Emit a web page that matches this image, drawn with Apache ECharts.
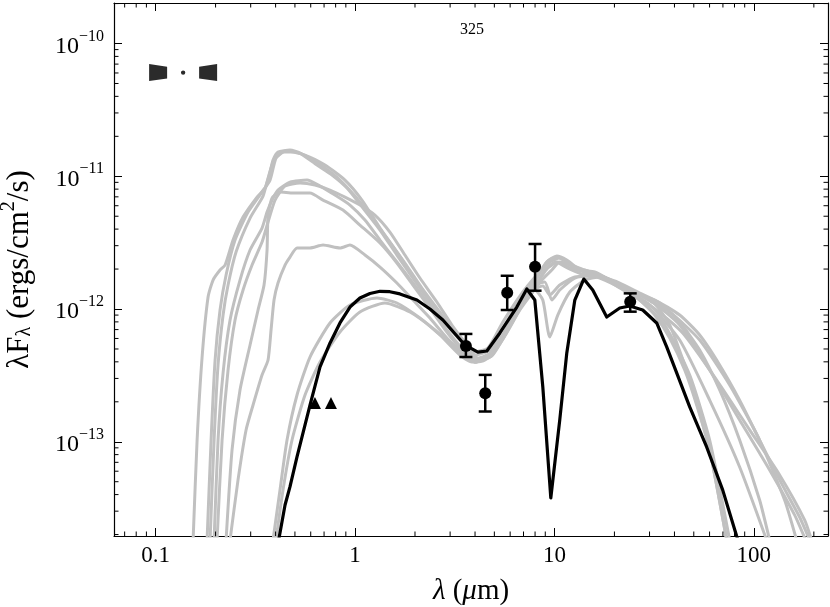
<!DOCTYPE html>
<html>
<head>
<meta charset="utf-8">
<title>SED 325</title>
<script src="https://cdn.jsdelivr.net/npm/echarts@6/dist/echarts.min.js"></script>
<style>
    html, body { margin: 0; padding: 0; background: #fff; }
    #chart { width: 830px; height: 607px; }
</style>
</head>
<body>
<div id="chart"></div>
<script>
// fluxes below are in units of 1e-12 ergs/cm^2/s, wavelengths in micron
var FLUX_UNIT = 1e-12;

var xRange = [0.0619, 235.5];
var yRange = [0.0195, 202];
var xTickValues = [0.1, 1, 10, 100];
var xTickLabels = ['0.1', '1', '10', '100'];
var yTickExps = [-13, -12, -11, -10];

// best fit model (black)
var fitSed = [[0.414,0.018],[0.446,0.0334],[0.472,0.0457],[0.512,0.0768],[0.595,0.189],[0.668,0.366],
    [0.750,0.555],[0.841,0.785],[0.944,1.035],[1.059,1.210],[1.189,1.310],[1.335,1.360],[1.497,1.350],
    [1.681,1.300],[2.045,1.169],[2.376,1.0],[2.760,0.826],[3.557,0.536],[4.133,0.474],[4.585,0.483],
    [5.327,0.660],[6.481,1.035],[7.273,1.415],[7.977,1.169],[8.748,0.259],[9.594,0.0377],[10.64,0.146],
    [11.54,0.467],[12.66,1.169],[14.04,1.682],[15.57,1.390],[18.30,0.871],[21.27,1.017],[23.87,1.053],
    [27.73,0.983],[32.59,0.785],[36.57,0.518],[41.04,0.330],[47.70,0.183],[58.00,0.0914],[69.79,0.0434],
    [82.00,0.0195],[84.9,0.0167]];

// other good fits (grey)
var model1 = [[0.1543,0.0182],[0.1616,0.1031],[0.1712,0.435],[0.1834,1.231],[0.1943,1.653],[0.2106,1.967],
    [0.2232,2.145],[0.2447,3.308],[0.2747,4.931],[0.3228,6.97],[0.3541,8.15],[0.3751,10.75],[0.3883,13.24],
    [0.4112,15.21],[0.4724,15.75],[0.5303,14.95],[0.6451,12.14],[0.767,10.21],[0.9117,8.15],[1.097,5.76],
    [1.335,3.935],[1.623,2.551],[1.953,1.712],[2.376,1.129],[2.890,0.758],[3.436,0.564],[3.993,0.450],
    [4.747,0.491],[5.642,0.758],[6.710,1.169],[7.977,1.653],[9.160,2.259],[10.28,2.464],[11.54,2.259],
    [13.41,1.967],[15.94,1.899],[18.95,1.653],[23.87,1.343],[31.84,1.169],[42.49,0.901],[53.52,0.637],
    [67.41,0.379],[84.90,0.206],[106.9,0.103],[134.7,0.0516],[169.6,0.0271],[190.4,0.0182]];

var model2 = [[0.1813,0.0182],[0.1899,0.1031],[0.1989,0.413],[0.2106,0.983],[0.2258,1.803],[0.2504,3.308],
    [0.2910,5.376],[0.3420,7.604],[0.3751,9.363],[0.4018,13.71],[0.4358,15.21],[0.5005,15.21],[0.595,13.71],
    [0.7075,11.53],[0.8409,9.363],[1.0,7.095],[1.189,5.105],[1.446,3.424],[1.780,2.221],[2.166,1.439],
    [2.666,0.949],[3.170,0.671],[3.683,0.491],[4.133,0.413],[4.858,0.443],[5.776,0.671],[6.867,1.053],
    [7.977,1.390],[8.748,1.169],[9.484,0.615],[10.40,0.901],[11.95,1.343],[14.20,1.653],[16.88,1.742],
    [21.27,1.439],[26.79,1.169],[31.84,0.901],[37.86,0.605],[45.02,0.347],[51.70,0.189],[60.05,0.0868],
    [73.08,0.0182]];

var model3 = [[0.1877,0.0182],[0.1966,0.1031],[0.2058,0.379],[0.2181,0.901],[0.2310,1.516],[0.2533,2.687],
    [0.2978,4.844],[0.3460,7.095],[0.3666,9.69],[0.3928,13.24],[0.4512,15.48],[0.5617,14.44],[0.7075,12.14],
    [0.8910,9.363],[1.084,6.62],[1.335,4.074],[1.623,2.687],[1.953,1.772],[2.376,1.169],[2.890,0.785],
    [3.436,0.584],[3.902,0.474],[4.638,0.508],[5.514,0.798],[6.710,1.253],[8.162,1.803],[9.484,2.259],
    [10.64,2.421],[12.23,2.145],[14.20,1.967],[16.88,1.772],[21.27,1.516],[30.06,1.072],[43.99,0.660],
    [65.11,0.292],[95.28,0.123],[134.7,0.0562],[179.7,0.0258],[194.8,0.0182]];

var model4 = [[0.1966,0.0182],[0.2058,0.1031],[0.2181,0.330],[0.2364,0.826],[0.2652,1.653],[0.2978,2.782],
    [0.3420,4.074],[0.3624,5.376],[0.3839,6.62],[0.4112,7.875],[0.4724,9.043],[0.5748,9.363],[0.668,8.438],
    [0.794,7.219],[0.9439,6.07],[1.122,4.68],[1.335,3.308],[1.623,2.259],[1.953,1.570],[2.376,1.053],
    [2.890,0.695],[3.436,0.508],[4.086,0.413],[4.747,0.443],[5.642,0.660],[6.710,1.017],[7.977,1.439],
    [8.952,1.967],[10.16,2.259],[11.67,2.036],[13.72,1.834],[16.88,1.712],[22.53,1.390],[30.06,1.072],
    [42.49,0.584],[60.05,0.206],[84.90,0.0646],[115.9,0.0182]];

var model5 = [[0.2035,0.0182],[0.2156,0.1031],[0.2310,0.347],[0.2504,0.826],[0.2747,1.390],[0.3048,2.145],
    [0.3420,3.195],[0.3666,4.520],[0.3974,6.62],[0.4460,8.438],[0.5303,8.889],[0.6303,8.585],[0.7495,7.875],
    [0.8910,6.97],[1.059,6.07],[1.259,5.105],[1.497,3.801],[1.780,2.551],[2.117,1.712],[2.575,1.129],
    [3.062,0.758],[3.557,0.564],[4.133,0.428],[4.858,0.474],[5.843,0.745],[6.867,1.110],[7.977,1.516],
    [8.952,1.597],[9.705,1.169],[10.64,1.390],[12.66,1.712],[15.39,1.772],[18.95,1.653],[26.79,1.169],
    [35.74,0.758],[47.70,0.318],[60.05,0.103],[75.67,0.0182]];

var model6 = [[0.2258,0.0182],[0.2419,0.0868],[0.2652,0.2455],[0.2978,0.536],[0.3266,0.983],[0.3500,1.516],
    [0.3624,2.782],[0.3666,5.105],[0.3839,6.85],[0.4208,7.604],[0.4891,7.474],[0.595,7.474],[0.6914,6.62],
    [0.8707,5.566],[1.059,4.290],[1.335,3.141],[1.623,2.221],[1.953,1.516],[2.376,1.017],[2.890,0.671],
    [3.436,0.491],[3.993,0.399],[4.747,0.435],[5.642,0.626],[6.710,0.983],[7.795,1.343],[8.649,1.653],
    [9.705,1.967],[10.64,2.259],[11.95,2.145],[14.20,1.899],[16.88,1.772],[21.27,1.543],[26.79,1.275],
    [37.86,0.949],[53.52,0.584],[75.67,0.268],[106.9,0.103],[142.7,0.0364],[163.8,0.0182]];

var model7 = [[0.2364,0.0182],[0.2592,0.0516],[0.2844,0.1227],[0.3083,0.1892],[0.3420,0.3184],[0.3666,0.413],
    [0.3795,0.695],[0.3928,1.169],[0.4112,1.570],[0.4460,2.145],[0.4724,2.464],[0.5122,2.879],[0.5950,2.879],
    [0.6914,3.033],[0.8409,2.879],[0.9439,3.033],[1.122,2.551],[1.335,2.072],[1.623,1.570],[1.953,1.169],
    [2.376,0.8555],[2.890,0.605],[3.436,0.474],[3.993,0.399],[4.747,0.443],[5.642,0.660],[6.710,1.017],
    [7.795,1.390],[8.748,1.490],[9.484,1.275],[10.64,1.516],[12.66,1.742],[15.94,1.803],[21.27,1.543],
    [30.06,1.169],[42.49,0.758],[60.05,0.347],[84.90,0.146],[120.0,0.0613],[160.1,0.0281],[181.8,0.0182]];

var model8 = [[0.3883,0.0182],[0.4208,0.0434],[0.4564,0.1031],[0.5122,0.2251],[0.595,0.435],[0.7495,0.785],
    [0.9439,1.072],[1.289,1.210],[1.623,1.110],[2.117,0.8555],[2.666,0.637],[3.357,0.450],[3.857,0.399],
    [4.480,0.413],[5.327,0.584],[6.333,0.901],[7.357,1.275],[8.257,1.597],[9.267,2.036],[10.40,2.259],
    [11.95,2.036],[14.20,1.899],[16.88,1.772],[21.27,1.570],[26.79,1.320],[33.74,1.110],[42.49,0.798],
    [53.52,0.491],[67.41,0.2455],[84.90,0.1031],[106.9,0.0364],[120.0,0.0182]];

var model9 = [[0.4018,0.0182],[0.4358,0.0434],[0.4835,0.1031],[0.5617,0.2251],[0.668,0.399],[0.8409,0.671],
    [1.059,0.949],[1.413,1.110],[1.886,0.949],[2.516,0.695],[3.357,0.474],[3.993,0.399],[4.747,0.450],
    [5.642,0.660],[6.710,1.072],[7.977,1.597],[9.160,2.259],[10.28,2.507],[11.54,2.339],[13.10,2.036],
    [15.39,1.899],[18.30,1.712],[23.87,1.390],[31.84,1.091],[37.86,0.758],[47.70,0.292],[60.05,0.0868],
    [73.08,0.0182]];

var greyModels = [model1, model2, model3, model4, model5, model6, model7, model8, model9];

// photometry with error bars
var photLam = [3.6, 4.5, 5.8, 8.0, 24.0];
var photFlux = [0.526, 0.232, 1.327, 2.08, 1.135];
var photLo = [0.435, 0.169, 0.983, 1.374, 0.955];
var photHi = [0.649, 0.319, 1.78, 3.09, 1.312];

// upper limits (triangles)
var limLam = [0.63, 0.758];
var limFlux = [0.196, 0.196];

// viewing angle icon position
var iconLam = 0.1375;
var iconFlux = 60.4;

function scaled(arr) {
    return arr.map(function (p) { return [p[0], p[1] * FLUX_UNIT]; });
}

var chart = echarts.init(document.getElementById('chart'));

var FONT = 'Liberation Serif';
var axisColor = '#000';

function xLabel(v) {
    var e = Math.log10(v);
    for (var i = 0; i < xTickValues.length; i++) {
        if (Math.abs(Math.log10(xTickValues[i]) - e) < 1e-6) return xTickLabels[i];
    }
    return '';
}
function yLabel(v) {
    var e = Math.round(Math.log10(v));
    if (Math.abs(Math.log10(v) - e) > 1e-6 || yTickExps.indexOf(e) < 0) return '';
    return '{b|10}{sup|\u2212' + Math.abs(e) + '}';
}

// minor ticks at 2..9 x 10^k
var xMinor = [], yMinor = [];
for (var k = -3; k <= 3; k++) {
    for (var m = 2; m <= 9; m++) {
        var v = m * Math.pow(10, k);
        if (v > xRange[0] && v < xRange[1]) xMinor.push([v, 1e-12]);
    }
}
for (var k2 = -15; k2 <= -9; k2++) {
    for (var m2 = 2; m2 <= 9; m2++) {
        var w = m2 * Math.pow(10, k2);
        if (w > yRange[0] * FLUX_UNIT && w < yRange[1] * FLUX_UNIT) yMinor.push([1, w]);
    }
}

var series = [];
greyModels.forEach(function (md, i) {
    series.push({
        name: 'model' + (i + 1),
        type: 'line',
        data: scaled(md),
        symbol: 'none',
        smooth: 0.2,
        clip: true,
        lineStyle: { color: '#c0c0c0', width: 3, opacity: 1 },
        z: 2
    });
});
series.push({
    name: 'best fit',
    type: 'line',
    data: scaled(fitSed),
    symbol: 'none',
    clip: true,
    lineStyle: { color: '#000', width: 3.2, opacity: 1, join: 'round' },
    z: 3
});
series.push({
    name: 'errors',
    type: 'custom',
    data: photLam.map(function (l, i) { return [l, photLo[i] * FLUX_UNIT, photHi[i] * FLUX_UNIT]; }),
    encode: { x: 0, y: [1, 2] },
    renderItem: function (params, api) {
        var lo = api.coord([api.value(0), api.value(1)]);
        var hi = api.coord([api.value(0), api.value(2)]);
        var hw = 6.5;
        var st = { stroke: '#000', lineWidth: 2.5 };
        return {
            type: 'group',
            children: [
                { type: 'line', shape: { x1: lo[0], y1: lo[1], x2: hi[0], y2: hi[1] }, style: st },
                { type: 'line', shape: { x1: lo[0] - hw, y1: lo[1], x2: lo[0] + hw, y2: lo[1] }, style: st },
                { type: 'line', shape: { x1: hi[0] - hw, y1: hi[1], x2: hi[0] + hw, y2: hi[1] }, style: st }
            ]
        };
    },
    z: 4
});
series.push({
    name: 'fluxes',
    type: 'scatter',
    data: photLam.map(function (l, i) { return [l, photFlux[i] * FLUX_UNIT]; }),
    symbol: 'circle',
    symbolSize: 12,
    itemStyle: { color: '#000', opacity: 1 },
    z: 5
});
series.push({
    name: 'limits',
    type: 'scatter',
    data: limLam.map(function (l, i) { return [l, limFlux[i] * FLUX_UNIT]; }),
    symbol: 'triangle',
    symbolSize: 12,
    itemStyle: { color: '#000', opacity: 1 },
    z: 5
});
series.push({
    name: 'icon',
    type: 'scatter',
    data: [[iconLam, iconFlux * FLUX_UNIT]],
    symbol: 'path://M0,0 L18,2.7 L18,14.3 L0,17 Z M50,2.7 L68,0 L68,17 L50,14.3 Z ' +
        'M31.8,8.5 L32.4,6.9 L34,6.3 L35.6,6.9 L36.2,8.5 L35.6,10.1 L34,10.7 L32.4,10.1 Z',
    symbolSize: [68, 17],
    itemStyle: { color: '#2b2b2b', opacity: 1 },
    z: 5
});
series.push({
    name: 'xminor',
    type: 'custom',
    data: xMinor,
    silent: true,
    renderItem: function (params, api) {
        var x = api.coord([api.value(0), api.value(1)])[0];
        var cs = params.coordSys;
        var st = { stroke: axisColor, lineWidth: 1 };
        return {
            type: 'group',
            children: [
                { type: 'line', shape: { x1: x, y1: cs.y + cs.height, x2: x, y2: cs.y + cs.height - 4.5 }, style: st },
                { type: 'line', shape: { x1: x, y1: cs.y, x2: x, y2: cs.y + 4.5 }, style: st }
            ]
        };
    },
    z: 6
});
series.push({
    name: 'yminor',
    type: 'custom',
    data: yMinor,
    silent: true,
    renderItem: function (params, api) {
        var y = api.coord([api.value(0), api.value(1)])[1];
        var cs = params.coordSys;
        var st = { stroke: axisColor, lineWidth: 1 };
        return {
            type: 'group',
            children: [
                { type: 'line', shape: { x1: cs.x, y1: y, x2: cs.x + 4.5, y2: y }, style: st },
                { type: 'line', shape: { x1: cs.x + cs.width, y1: y, x2: cs.x + cs.width - 4.5, y2: y }, style: st }
            ]
        };
    },
    z: 6
});

var baseAxis = {
    type: 'log',
    logBase: 10,
    axisLine: { show: true, onZero: false, lineStyle: { color: axisColor, width: 1.2 } },
    axisTick: { show: true, inside: true, length: 8, lineStyle: { color: axisColor, width: 1 } },
    splitLine: { show: false },
    minorTick: { show: false },
    minorSplitLine: { show: false }
};

chart.setOption({
    animation: false,
    backgroundColor: '#fff',
    title: {
        text: '325',
        left: 467,
        top: 17,
        textAlign: 'center',
        textStyle: { fontFamily: FONT, fontSize: 16, fontWeight: 'normal', color: '#000' }
    },
    grid: { left: 114, right: 2, top: 3, bottom: 71, containLabel: false, outerBoundsMode: 'none' },
    xAxis: [
        Object.assign({}, baseAxis, {
            position: 'bottom',
            min: xRange[0],
            max: xRange[1],
            axisLabel: {
                show: true, margin: 8, showMinLabel: false, showMaxLabel: false,
                fontFamily: FONT, fontSize: 23, color: '#000',
                formatter: xLabel
            },
            name: '{i|\u03bb} ({i|\u03bc}m)',
            nameLocation: 'middle',
            nameGap: 41,
            nameTextStyle: {
                fontFamily: FONT, fontSize: 29, color: '#000',
                rich: { i: { fontFamily: FONT, fontSize: 29, fontStyle: 'italic', color: '#000' } }
            }
        }),
        Object.assign({}, baseAxis, {
            position: 'top',
            min: xRange[0],
            max: xRange[1],
            axisLabel: { show: false }
        })
    ],
    yAxis: [
        Object.assign({}, baseAxis, {
            position: 'left',
            min: yRange[0] * FLUX_UNIT,
            max: yRange[1] * FLUX_UNIT,
            axisLabel: {
                show: true, margin: 10, showMinLabel: false, showMaxLabel: false,
                fontFamily: FONT, fontSize: 23, color: '#000',
                formatter: yLabel,
                rich: {
                    b: { fontFamily: FONT, fontSize: 24, color: '#000', verticalAlign: 'bottom', lineHeight: 30 },
                    sup: { fontFamily: FONT, fontSize: 16, color: '#000', verticalAlign: 'top', lineHeight: 16 }
                }
            },
            name: '{t|\u03bbF}{sub|\u03bb}{t| (ergs/cm}{sup|2}{t|/s)}',
            nameLocation: 'middle',
            nameRotate: 90,
            nameGap: 79,
            nameTextStyle: {
                fontFamily: FONT, fontSize: 31, color: '#000',
                rich: {
                    t: { fontFamily: FONT, fontSize: 31, color: '#000', verticalAlign: 'bottom', lineHeight: 36 },
                    sub: { fontFamily: FONT, fontSize: 20, color: '#000', verticalAlign: 'bottom', lineHeight: 20 },
                    sup: { fontFamily: FONT, fontSize: 20, color: '#000', verticalAlign: 'top', lineHeight: 20 }
                }
            }
        }),
        Object.assign({}, baseAxis, {
            position: 'right',
            min: yRange[0] * FLUX_UNIT,
            max: yRange[1] * FLUX_UNIT,
            axisLabel: { show: false }
        })
    ],
    series: series
});
</script>
</body>
</html>
